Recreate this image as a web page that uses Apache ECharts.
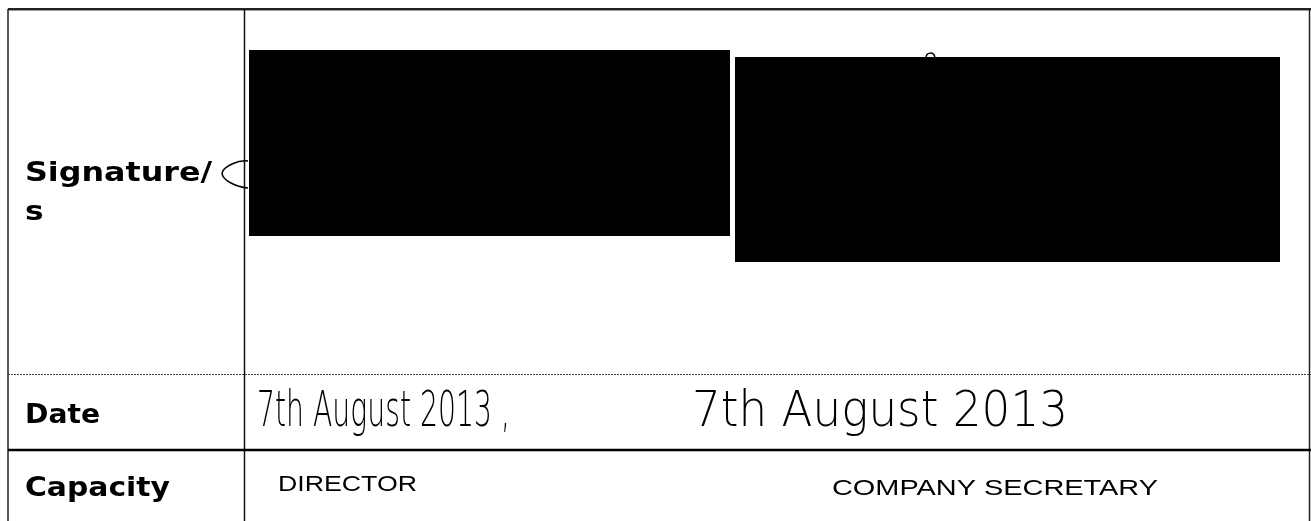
<!DOCTYPE html>
<html>
<head>
<meta charset="utf-8">
<script src="https://cdn.jsdelivr.net/npm/echarts@6/dist/echarts.min.js"></script>
<style>
html,body{margin:0;padding:0;background:#ffffff;}
#chart{width:1311px;height:521px;}
</style>
</head>
<body>
<div id="chart"></div>
<script>
// ---- content (table data) ----
const rowLabels = ['Signature/', 's', 'Date', 'Capacity'];
const signatoryDates = ['7th August 2013 ,', '7th August 2013'];
const signatoryCapacities = ['DIRECTOR', 'COMPANY SECRETARY'];

// ---- layout helpers ----
const measureCtx = document.createElement('canvas').getContext('2d');
function fitScale(text, font, width) {
  measureCtx.font = font;
  const w = measureCtx.measureText(text).width;
  return w > 0 ? width / w : 1;
}
function textEl(str, x, yMid, font, width, fill) {
  return {
    type: 'text',
    x: x,
    y: yMid,
    scaleX: width ? fitScale(str, font, width) : 1.2,
    originX: 0,
    originY: 0,
    silent: true,
    style: {
      text: str,
      x: 0, y: 0,
      font: font,
      fill: fill || '#000',
      textAlign: 'left', align: 'left',
      textVerticalAlign: 'middle', verticalAlign: 'middle'
    }
  };
}
function lineEl(x1, y1, x2, y2, w, color, dash) {
  return {
    type: 'line', silent: true,
    shape: { x1, y1, x2, y2 },
    style: { stroke: color, lineWidth: w, lineDash: dash || null }
  };
}
function curveEl(x1, y1, cx1, cy1, cx2, cy2, x2, y2) {
  return {
    type: 'bezierCurve', silent: true,
    shape: { x1, y1, cpx1: cx1, cpy1: cy1, cpx2: cx2, cpy2: cy2, x2, y2 },
    style: { stroke: '#000', lineWidth: 1.5, fill: null }
  };
}

const boldFont = 'bold 26px "DejaVu Sans"';
const plainFont = '22px "Liberation Sans"';
const handFont = '200 50px "DejaVu Sans"';

const elements = [
  // borders / grid lines
  lineEl(8, 9, 1311, 9, 2, '#222'),
  lineEl(8, 10.5, 1311, 10.5, 1, '#999'),
  lineEl(8, 9, 8, 521, 1.5, '#222'),
  lineEl(244.5, 9, 244.5, 521, 1.5, '#111'),
  lineEl(1309.5, 9, 1309.5, 521, 1.5, '#222'),
  lineEl(8, 374.5, 1311, 374.5, 1, '#444', [2, 1]),
  lineEl(8, 450, 1311, 450, 2.5, '#000'),
  // redaction blocks
  { type: 'rect', silent: true, shape: { x: 249, y: 50, width: 481, height: 186 }, style: { fill: '#000' } },
  { type: 'rect', silent: true, shape: { x: 735, y: 57, width: 545, height: 205 }, style: { fill: '#000' } },
  // visible signature strokes
  curveEl(248, 161, 238, 160, 224, 166, 222, 173),
  curveEl(222, 173, 222, 180, 236, 187, 248, 188),
  curveEl(926, 58, 926, 52, 934, 51, 935, 58),
  // row labels
  textEl(rowLabels[0], 25, 174, boldFont, 187),
  textEl(rowLabels[1], 25, 213, boldFont, null),
  textEl(rowLabels[2], 25, 416, boldFont, 75),
  textEl(rowLabels[3], 25, 489, boldFont, 145),
  // handwritten dates
  textEl(signatoryDates[0], 257, 413, handFont, 253),
  textEl(signatoryDates[1], 692, 413, handFont, 376),
  // capacities
  textEl(signatoryCapacities[0], 278, 485, plainFont, 139),
  textEl(signatoryCapacities[1], 832, 489, plainFont, 326)
];

const chart = echarts.init(document.getElementById('chart'), null, { renderer: 'canvas' });
chart.setOption({
  backgroundColor: '#ffffff',
  animation: false,
  graphic: { elements: elements }
});
</script>
</body>
</html>
